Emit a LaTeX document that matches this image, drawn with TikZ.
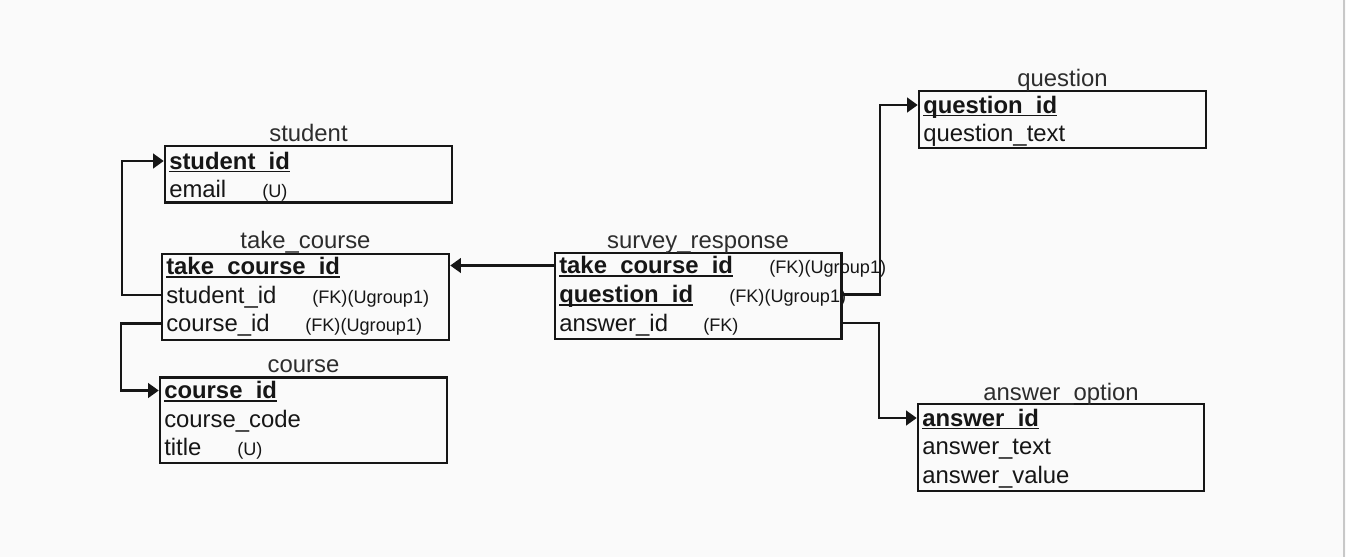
\documentclass[tikz,border=0pt]{standalone}
\usepackage{fontspec}
\setmainfont{Liberation Sans}
\usetikzlibrary{arrows.meta,fit}
\definecolor{ink}{RGB}{22,22,22}
\definecolor{bgc}{RGB}{250,250,250}
\definecolor{edgec}{RGB}{200,200,200}
\newsavebox\pkbox
\newcommand\pkey[1]{\sbox\pkbox{\bfseries #1}\rlap{\rule[-2.4pt]{\wd\pkbox}{1.2pt}}\usebox\pkbox}
\begin{document}
\begin{tikzpicture}[x=0.75pt,y=-0.75pt,
  tbl/.style={draw=ink,line width=1.9pt,inner sep=0pt},
  fld/.style={anchor=west,inner sep=0pt,text height=12pt,text depth=0pt,text=ink,font=\fontsize{17.9}{20}\selectfont},
  note/.style={anchor=west,inner sep=0pt,text height=12pt,text depth=0pt,text=ink,font=\fontsize{13.6}{16}\selectfont},
  ttl/.style={anchor=base,inner sep=0pt,text=ink!90,font=\fontsize{17.9}{20}\selectfont},
  link/.style={draw=ink,line width=1.7pt,-{Triangle[length=8pt,width=11pt]}}
]
\useasboundingbox (0,0) rectangle (1346,557);
\fill[bgc] (0,0) rectangle (1346,557);
\draw[edgec,line width=1.5pt] (1343.5,0) -- (1343.5,557);

% student
\node[tbl,fit={(165,146)(452,202.5)}] (st) {};
\node[ttl] (stt) at (308.5,141) {student};
\node[fld] (stid) at (169,161) {\pkey{student\_id}};
\node[fld] (stem) at (169,189) {email};
\node[note] (stemu) at (262,189) {(U)};

% take_course
\node[tbl,fit={(162,254)(449,340)}] (tc) {};
\node[ttl] (tct) at (305.5,248) {take\_course};
\node[fld] (tcid) at (166,266.5) {\pkey{take\_course\_id}};
\node[fld] (tcsid) at (166,295) {student\_id};
\node[note] (tcsidn) at (312,295) {(FK)(Ugroup1)};
\node[fld] (tccid) at (166,323.5) {course\_id};
\node[note] (tccidn) at (305,323.5) {(FK)(Ugroup1)};

% course
\node[tbl,fit={(160,377.5)(447,463)}] (co) {};
\node[ttl] (cot) at (303.5,372) {course};
\node[fld] (cid) at (164,390.5) {\pkey{course\_id}};
\node[fld] (ccode) at (164,419) {course\_code};
\node[fld] (ctitle) at (164,447.5) {title};
\node[note] (ctitleu) at (237,447.5) {(U)};

% survey_response
\node[tbl,fit={(555,253)(841.5,339)}] (sr) {};
\node[ttl] (srt) at (698,248) {survey\_response};
\node[fld] (srtc) at (559,265.5) {\pkey{take\_course\_id}};
\node[note] (srtcn) at (769,265.5) {(FK)(Ugroup1)};
\node[fld] (srq) at (559,294.5) {\pkey{question\_id}};
\node[note] (srqn) at (729,294.5) {(FK)(Ugroup1)};
\node[fld] (sra) at (559,323) {answer\_id};
\node[note] (sran) at (703,323) {(FK)};

% question
\node[tbl,fit={(919,91)(1206,148)}] (q) {};
\node[ttl] (qt) at (1062.5,86) {question};
\node[fld] (qid) at (923,105) {\pkey{question\_id}};
\node[fld] (qtext) at (923,133) {question\_text};

% answer_option
\node[tbl,fit={(918,404)(1204,491)}] (ao) {};
\node[ttl] (aot) at (1061,400) {answer\_option};
\node[fld] (aid) at (922,418) {\pkey{answer\_id}};
\node[fld] (atext) at (922,446.5) {answer\_text};
\node[fld] (aval) at (922,475) {answer\_value};

% connectors
\draw[link] (tcsid.west -| tc.west) -- ++(-39,0) |- (stid.west -| st.west);
\draw[link] (tccid.west -| tc.west) -- ++(-40,0) |- (cid.west -| co.west);
\draw[link] (srtc.west -| sr.west) -- (srtc.west -| tc.east);
\draw[link] (srq.west -| sr.east) -- ++(37,0) |- (qid.west -| q.west);
\draw[link] (sra.west -| sr.east) -- ++(36,0) |- (aid.west -| ao.west);
\end{tikzpicture}
\end{document}
